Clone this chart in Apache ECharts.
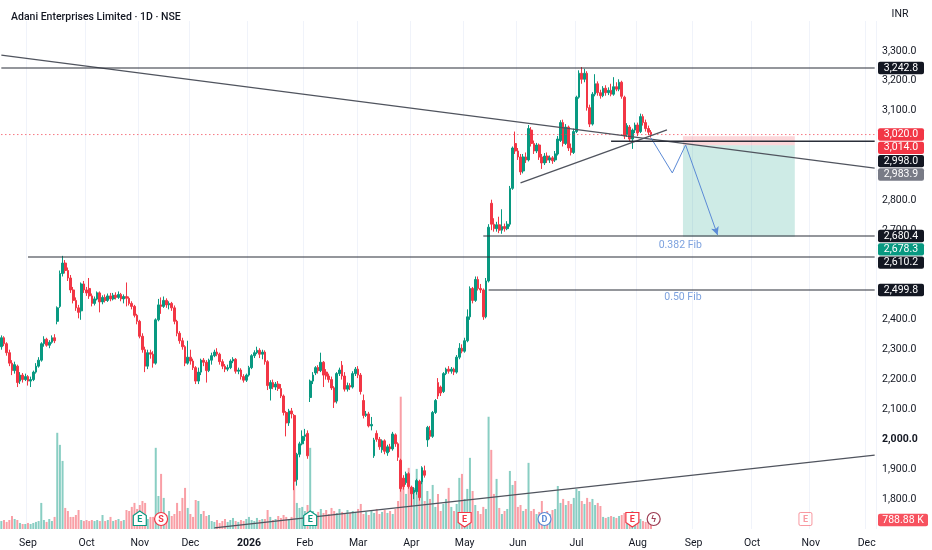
<!DOCTYPE html>
<html>
<head>
<meta charset="utf-8">
<script src="https://cdn.jsdelivr.net/npm/echarts@6/dist/echarts.min.js"></script>
<style>
html,body{margin:0;padding:0;background:#fff}
#chart{width:932px;height:550px}
</style>
</head>
<body>
<div id="chart"></div>
<script>
// trading calendar (weekdays minus a few exchange holidays), past + future space
var startDate = '2025-08-18';
var endDate = '2026-12-04';
var holidays = ['2025-10-02','2025-10-21','2025-10-22','2025-11-05','2025-12-25',
  '2026-01-26','2026-03-03','2026-03-26','2026-04-03','2026-04-14','2026-05-01'];

// daily candles [open, close, low, high]
var ohlc = [
  [2310,2340,2300,2348],[2340,2320,2312,2345],[2320,2290,2280,2325],[2290,2255,2245,2300],[2255,2230,2215,2265],
  [2230,2250,2220,2260],[2245,2190,2175,2250],[2195,2215,2185,2225],[2215,2200,2190,2222],[2200,2210,2195,2220],
  [2210,2195,2180,2215],[2195,2200,2175,2210],[2200,2225,2195,2230],[2225,2245,2220,2255],[2245,2265,2240,2275],
  [2265,2320,2260,2325],[2320,2335,2310,2345],[2335,2315,2310,2340],[2315,2325,2305,2332],[2325,2340,2320,2348],
  [2340,2330,2322,2352],[2395,2440,2385,2445],[2445,2555,2440,2565],[2555,2590,2545,2614],[2590,2565,2555,2600],
  [2565,2540,2530,2575],[2540,2500,2490,2550],[2500,2465,2455,2510],[2465,2440,2430,2475],[2440,2425,2405,2450],
  [2430,2520,2400,2525],[2520,2500,2490,2530],[2500,2490,2480,2510],[2505,2480,2470,2540],[2480,2455,2445,2488],
  [2455,2470,2448,2478],[2470,2490,2465,2495],[2490,2460,2425,2495],[2460,2475,2452,2482],[2475,2465,2458,2485],
  [2465,2480,2460,2488],[2480,2470,2462,2490],[2470,2482,2465,2490],[2482,2475,2468,2492],[2475,2485,2470,2495],
  [2485,2470,2462,2490],[2470,2478,2455,2485],[2478,2472,2445,2525],[2472,2455,2448,2478],[2455,2445,2435,2462],
  [2445,2415,2408,2450],[2415,2395,2385,2420],[2395,2345,2338,2400],[2345,2300,2290,2355],[2300,2245,2225,2310],
  [2245,2290,2235,2300],[2290,2285,2270,2300],[2285,2255,2240,2295],[2255,2400,2250,2405],[2400,2450,2395,2470],
  [2450,2445,2420,2475],[2445,2465,2440,2478],[2465,2450,2440,2472],[2450,2455,2435,2462],[2455,2440,2430,2460],
  [2440,2395,2385,2448],[2395,2355,2345,2400],[2355,2330,2320,2362],[2330,2310,2300,2340],[2310,2255,2245,2315],
  [2255,2275,2250,2330],[2275,2262,2250,2300],[2262,2240,2232,2270],[2240,2195,2185,2245],[2195,2225,2185,2240],
  [2225,2265,2215,2270],[2265,2258,2245,2272],[2258,2230,2190,2265],[2230,2265,2225,2270],[2265,2280,2250,2290],
  [2280,2292,2275,2300],[2292,2285,2278,2305],[2285,2260,2250,2290],[2260,2245,2235,2268],[2245,2235,2225,2252],
  [2235,2240,2228,2250],[2240,2262,2235,2268],[2262,2268,2255,2275],[2268,2228,2220,2272],[2228,2232,2218,2240],
  [2232,2210,2200,2238],[2210,2198,2190,2218],[2198,2215,2192,2220],[2215,2240,2210,2246],[2240,2280,2235,2285],
  [2280,2290,2272,2298],[2290,2298,2285,2310],[2298,2285,2272,2305],[2285,2292,2268,2300],[2292,2260,2250,2298],
  [2260,2180,2165,2265],[2170,2190,2130,2198],[2190,2175,2168,2200],[2175,2185,2165,2192],[2185,2170,2162,2195],
  [2170,2145,2138,2185],[2145,2090,2080,2150],[2090,2055,2010,2095],[2055,2095,2045,2102],[2095,2085,2070,2105],
  [2080,1860,1830,2085],[1865,1950,1845,1955],[1950,1985,1940,1992],[1985,2010,1980,2030],[2010,2015,1995,2035],
  [2020,1945,1935,2030],[2140,2195,2125,2200],[2195,2215,2185,2225],[2222,2240,2215,2245],[2240,2230,2220,2248],
  [2230,2258,2225,2290],[2258,2215,2175,2262],[2225,2212,2200,2235],[2212,2200,2190,2220],[2200,2172,2165,2210],
  [2172,2125,2105,2178],[2128,2220,2120,2225],[2220,2232,2212,2240],[2248,2212,2200,2262],[2212,2168,2160,2225],
  [2168,2180,2160,2190],[2180,2175,2165,2188],[2175,2220,2170,2228],[2220,2235,2212,2242],[2235,2215,2205,2245],
  [2215,2160,2150,2222],[2130,2080,2070,2150],[2080,2085,2075,2095],[2085,2045,2040,2092],[2045,2050,2030,2075],
  [1945,1998,1938,2005],[2020,2000,1992,2030],[2000,1975,1965,2008],[1965,1995,1955,2000],[1995,1960,1950,2000],
  [1955,1975,1945,1982],[1975,1968,1958,1985],[1968,2018,1962,2025],[2015,1985,1975,2020],[1985,1940,1928,1990],
  [1930,1835,1825,1935],[1870,1842,1832,1880],[1855,1885,1848,1892],[1885,1842,1835,1890],[1840,1818,1775,1845],
  [1822,1830,1800,1840],[1825,1862,1815,1868],[1860,1805,1795,1865],[1858,1905,1850,1910],[1895,1880,1872,1912],
  [1998,2040,1975,2045],[2030,2010,2000,2045],[2010,2090,2005,2095],[2090,2130,2085,2135],[2190,2145,2135,2205],
  [2175,2155,2145,2180],[2160,2220,2155,2225],[2220,2235,2215,2240],[2235,2228,2220,2245],[2228,2235,2220,2242],
  [2235,2225,2215,2240],[2225,2275,2220,2282],[2275,2305,2268,2322],[2305,2295,2288,2318],[2295,2330,2290,2340],
  [2330,2410,2325,2435],[2410,2505,2400,2512],[2505,2465,2455,2510],[2465,2535,2460,2545],[2535,2505,2498,2545],
  [2505,2500,2490,2520],[2500,2410,2400,2505],[2410,2530,2405,2540],[2530,2710,2525,2720],[2790,2720,2700,2802],
  [2720,2705,2695,2740],[2705,2718,2695,2728],[2718,2700,2690,2745],[2700,2712,2688,2770],[2712,2705,2695,2722],
  [2705,2720,2700,2730],[2720,2840,2712,2848],[2840,2975,2835,2980],[2990,2965,2955,3030],[2965,2945,2935,2975],
  [2945,2895,2885,2955],[2898,2945,2890,2955],[2945,2935,2925,2960],[2935,3040,2930,3052],[3035,2990,2980,3045],
  [2990,2965,2955,3000],[2965,2985,2958,2992],[2985,2945,2935,2990],[2945,2925,2905,2955],[2925,2948,2918,2958],
  [2948,2935,2925,2960],[2935,2942,2925,2950],[2942,2932,2922,2948],[2935,2955,2928,2965],[2955,3005,2950,3015],
  [3000,3060,2995,3068],[3060,2990,2980,3070],[2990,3045,2985,3055],[3045,2975,2965,3050],[2975,2960,2950,2990],
  [2960,3030,2955,3040],[3030,3145,3025,3150],[3145,3225,3140,3235],[3225,3205,3190,3246],[3205,3225,3195,3240],
  [3225,3110,3100,3232],[3110,3055,3045,3120],[3055,3155,3050,3162],[3155,3190,3148,3222],[3190,3160,3150,3198],
  [3160,3150,3140,3170],[3150,3175,3145,3182],[3175,3160,3150,3185],[3160,3168,3152,3178],[3168,3155,3148,3190],
  [3155,3180,3150,3212],[3180,3172,3165,3195],[3172,3195,3165,3205],[3195,3148,3140,3200],[3145,3015,3005,3150],
  [3020,3050,3012,3058],[3045,3005,2998,3052],[3005,3035,2972,3040],[3035,3052,3025,3060],[3052,3025,3015,3060],
  [3030,3080,3025,3090],[3080,3060,3050,3088],[3060,3040,3030,3070],[3040,3028,3018,3050],[3028,3020,3010,3035]
];

// daily volume, thousands of shares
var volume = [
  700,790,620,790,1140,880,790,530,440,440,530,440,530,620,700,
  2290,790,620,880,700,1060,8450,7390,5980,1850,1580,1060,1060,1230,1670,
  790,700,790,700,790,700,790,700,1230,700,790,1060,700,790,880,700,790,1670,
  1580,1940,2290,1760,2110,2460,2290,880,1060,1060,7130,2900,4840,2730,
  1230,1580,1140,1320,2290,1580,2730,3610,1850,1320,1060,2550,2460,1320,1580,1140,1230,
  700,620,790,530,700,880,620,790,970,700,620,790,700,880,1060,790,700,970,790,880,
  880,1670,1060,790,880,1140,970,1230,1060,880,1060,4220,2290,1850,1940,1580,2110,7130,
  1580,1320,1500,1760,1410,1670,1320,1850,1580,1410,1760,1500,1320,1670,1410,1580,1500,1760,2200,
  1320,1500,1230,1580,1410,1760,1320,1500,1670,1410,1580,1320,1760,2460,
  11620,4490,3080,5370,3340,3610,5280,3080,4400,2460,3340,2640,3870,1940,3080,1580,2200,2640,3610,1940,
  1580,2200,4490,4840,2640,3520,6250,3340,2110,1580,1320,1940,1760,9860,6950,3080,4400,1850,1320,1580,
  1760,5100,3870,4220,1940,2110,1580,1760,5810,1580,1760,1320,1500,2460,1410,1580,1320,1670,1760,3780,
  2290,2640,2110,2460,2200,2730,3520,3340,2460,2200,2730,2380,2640,2110,2290,2020,1060,970,1060,1140,
  1060,970,1140,1230,1410,1140,1320,1580,1060,970,880,700,620,700,788.88
];

// drawings: [bar index, price]
var downTrend = [[0, 3286], [327.6, 2908]];
var riseTrend = [[195, 2858], [250.4, 3035.5]];
var baseTrend = [[80, 1704], [328, 1947]];
var levels = [
  {price: 3242.8, from: 0},
  {price: 2610.2, from: 9.6},
  {price: 2680.4, from: 181},
  {price: 2499.8, from: 182.5},
  {price: 2998.0, from: 229}
];
var lastPrice = 3020.0;
var position = {from: 255.8, to: 297.5, stop: 3014.0, entry: 2983.9, target: 2678.3};
var pathPts = [[244.1, 3008.7], [251.6, 2891.6], [256.8, 2985.3], [268.8, 2684]];
var fibLabels = [{text: '0.382 Fib', at: [255.2, 2650]}, {text: '0.50 Fib', at: [255.5, 2476]}];
var tags = [
  {v: 3242.8, bg: '#131722'}, {v: 3020.0, bg: '#f23645'}, {v: 3014.0, bg: '#f23645'},
  {v: 2998.0, bg: '#131722'}, {v: 2983.9, bg: '#787b86'}, {v: 2680.4, bg: '#131722'},
  {v: 2678.3, bg: '#089981'}, {v: 2610.2, bg: '#131722'}, {v: 2499.8, bg: '#131722'}
];
var events = [
  {i: 52, t: 'E', kind: 'eUp'}, {i: 60, t: 'S', kind: 'circle', c: '#f23645'},
  {i: 116, t: 'E', kind: 'eUp'}, {i: 174, t: 'E', kind: 'eDown'},
  {i: 204, t: 'D', kind: 'circle', c: '#5b8ad6'}, {i: 237, t: 'E', kind: 'eDown'},
  {i: 245, t: 'ϟ', kind: 'circle', c: '#9c3b52'}, {i: 302, t: 'E', kind: 'eFuture'}
];

var UP = '#089981', DOWN = '#f23645', FONT = 'Roboto, Arial, sans-serif';
var MONTHS = ['Jan','Feb','Mar','Apr','May','Jun','Jul','Aug','Sep','Oct','Nov','Dec'];

var dates = [];
(function () {
  var d = new Date(startDate + 'T00:00:00Z'), end = new Date(endDate + 'T00:00:00Z');
  while (d <= end) {
    var s = d.toISOString().slice(0, 10), wd = d.getUTCDay();
    if (wd !== 0 && wd !== 6 && holidays.indexOf(s) < 0) dates.push(s);
    d.setUTCDate(d.getUTCDate() + 1);
  }
})();

function monthStart(idx) {
  return idx > 0 && dates[idx].slice(0, 7) !== dates[idx - 1].slice(0, 7);
}
function fmtPrice(v) {
  var s = v.toFixed(1), p = s.split('.'), n = p[0];
  if (n.length > 3) n = n.slice(0, n.length - 3) + ',' + n.slice(n.length - 3);
  return n + '.' + p[1];
}

var volData = volume.map(function (v, i) {
  var up = ohlc[i][1] >= ohlc[i][0];
  return {value: v, itemStyle: {color: up ? 'rgba(8,153,129,0.48)' : 'rgba(242,54,69,0.48)'}};
});

function drawLine(pts, extra) {
  return Object.assign({
    type: 'line', xAxisIndex: 0, yAxisIndex: 0, data: pts, symbol: 'none', silent: true,
    animation: false, z: 5, lineStyle: {color: '#50545e', width: 1.3}
  }, extra || {});
}

var series = [
  {
    type: 'bar', xAxisIndex: 1, yAxisIndex: 1, data: volData, barWidth: 2,
    silent: true, animation: false, z: 1
  },
  {
    type: 'candlestick', xAxisIndex: 0, yAxisIndex: 0, data: ohlc, barWidth: 2.2,
    animation: false, z: 3, silent: true,
    itemStyle: {color: UP, color0: DOWN, borderColor: UP, borderColor0: DOWN, borderWidth: 1},
    markArea: {
      silent: true,
      data: [
        [{coord: [position.from, position.stop], itemStyle: {color: 'rgba(242,54,69,0.2)'}},
         {coord: [position.to, position.entry]}],
        [{coord: [position.from, position.entry], itemStyle: {color: 'rgba(8,153,129,0.2)'}},
         {coord: [position.to, position.target]}]
      ]
    }
  },
  drawLine(downTrend),
  drawLine(riseTrend),
  drawLine(baseTrend),
  drawLine([[0, lastPrice], [328, lastPrice]], {lineStyle: {color: '#f23645', width: 1, type: [1, 3]}, z: 4}),
  drawLine(pathPts.slice(0, 3), {
    lineStyle: {color: '#5b8ad6', width: 1},
    markLine: {
      silent: true, symbol: ['none', 'arrow'], symbolSize: [6, 8],
      lineStyle: {color: '#5b8ad6', width: 1, type: 'solid'}, label: {show: false},
      data: [[{coord: pathPts[2]}, {coord: pathPts[3]}]]
    }
  }),
  {
    type: 'scatter', xAxisIndex: 0, yAxisIndex: 0, symbolSize: 0, silent: true, animation: false,
    data: fibLabels.map(function (f) { return {value: f.at, label: {formatter: f.text}}; }),
    label: {show: true, color: '#5b8ad6', fontSize: 10.5, fontFamily: FONT, position: 'inside'}
  }
];
levels.forEach(function (l) {
  series.push(drawLine([[l.from, l.price], [328, l.price]], {
    lineStyle: {color: '#2a2e39', width: l.price === 2998 ? 1.5 : 1.1}
  }));
});

var chart = echarts.init(document.getElementById('chart'));
chart.setOption({
  backgroundColor: '#fff',
  animation: false,
  title: {
    text: 'Adani Enterprises Limited · 1D · NSE', left: 6, top: 7,
    textStyle: {fontSize: 10.5, fontWeight: 500, color: '#131722', fontFamily: FONT}
  },
  grid: [
    {left: 0, right: 56, top: 21, bottom: 21},
    {left: 0, right: 56, top: 381, bottom: 21}
  ],
  xAxis: [
    {
      type: 'category', gridIndex: 0, data: dates, boundaryGap: true,
      axisLine: {show: false}, axisTick: {show: false},
      axisLabel: {
        interval: function (idx) { return monthStart(idx); },
        margin: 9, color: '#131722', fontSize: 10.5, fontFamily: FONT,
        formatter: function (val) {
          var m = +val.slice(5, 7);
          return m === 1 ? '{y|' + val.slice(0, 4) + '}' : MONTHS[m - 1];
        },
        rich: {y: {fontWeight: 'bold', fontSize: 10.5, fontFamily: FONT, color: '#131722'}}
      },
      splitLine: {show: true, interval: function (idx) { return monthStart(idx); },
        lineStyle: {color: '#f0f3fa', width: 1}}
    },
    {type: 'category', gridIndex: 1, data: dates, show: false}
  ],
  yAxis: [
    {
      type: 'value', gridIndex: 0, position: 'right', min: 1700, max: 3400, interval: 100,
      axisLine: {show: false}, axisTick: {show: false}, splitLine: {show: false},
      axisLabel: {
        margin: 6, color: '#131722', fontSize: 10.5, fontFamily: FONT,
        formatter: function (v) {
          if ([1700, 2500, 2600, 2900, 3000, 3400].indexOf(v) >= 0) return '';
          return v === 2000 ? '{b|' + fmtPrice(v) + '}' : fmtPrice(v);
        },
        rich: {b: {fontWeight: 'bold', fontSize: 10.5, fontFamily: FONT, color: '#131722'}}
      }
    },
    {type: 'value', gridIndex: 1, min: 0, max: 13000, show: false}
  ],
  series: series
});

// right-hand price tags, stacked so they do not overlap
var g = [];
var prevY = -100;
tags.slice().sort(function (a, b) { return b.v - a.v; }).forEach(function (t) {
  var y = chart.convertToPixel({yAxisIndex: 0}, t.v);
  if (y < prevY + 13.3) y = prevY + 13.3;
  prevY = y;
  g.push({
    type: 'rect', shape: {x: 878, y: y - 6.2, width: 46, height: 12.4, r: 2},
    style: {fill: t.bg}, z: 100
  });
  g.push({
    type: 'text', x: 901, y: y, z: 101,
    style: {text: fmtPrice(t.v), fill: '#fff', font: '10.5px ' + FONT, align: 'center', verticalAlign: 'middle'}
  });
});
var lastVol = volume[volume.length - 1];
var vy = chart.convertToPixel({yAxisIndex: 1}, lastVol);
g.push({type: 'rect', shape: {x: 878, y: vy - 6.2, width: 50, height: 12.4, r: 2}, style: {fill: '#f7525f'}, z: 100});
g.push({type: 'text', x: 903, y: vy, z: 101,
  style: {text: lastVol.toFixed(2) + ' K', fill: '#fff', font: '10.5px ' + FONT, align: 'center', verticalAlign: 'middle'}});
g.push({type: 'text', x: 900, y: 14, z: 101,
  style: {text: 'INR', fill: '#131722', font: '10.5px ' + FONT, align: 'center', verticalAlign: 'middle'}});

// event markers along the bottom of the price pane
events.forEach(function (e) {
  var cx = chart.convertToPixel({xAxisIndex: 0}, e.i), cy = 519;
  var col = e.kind === 'eUp' ? UP : (e.kind === 'circle' ? e.c : '#f23645');
  var op = e.kind === 'eFuture' ? 0.5 : 1;
  var shape;
  if (e.kind === 'circle') {
    shape = {type: 'circle', shape: {cx: cx, cy: cy, r: 6.5}, style: {fill: '#fff', stroke: col, lineWidth: 1.2, opacity: op}, z: 90};
  } else if (e.kind === 'eUp') {
    shape = {type: 'polygon', shape: {points: [[cx, cy - 8], [cx + 6.5, cy - 3.5], [cx + 6.5, cy + 6.5], [cx - 6.5, cy + 6.5], [cx - 6.5, cy - 3.5]]},
      style: {fill: '#fff', stroke: col, lineWidth: 1.2}, z: 90};
  } else if (e.kind === 'eDown') {
    shape = {type: 'polygon', shape: {points: [[cx - 6.5, cy - 6.5], [cx + 6.5, cy - 6.5], [cx + 6.5, cy + 3.5], [cx, cy + 8], [cx - 6.5, cy + 3.5]]},
      style: {fill: '#fff', stroke: col, lineWidth: 1.2}, z: 90};
  } else {
    shape = {type: 'rect', shape: {x: cx - 6.5, y: cy - 6.5, width: 13, height: 13, r: 1.5},
      style: {fill: '#fff', stroke: col, lineWidth: 1, opacity: op}, z: 90};
  }
  g.push(shape);
  g.push({type: 'text', x: cx, y: cy + 0.5, z: 91,
    style: {text: e.t, fill: col, opacity: op, font: 'bold 9px ' + FONT, align: 'center', verticalAlign: 'middle'}});
});
chart.setOption({graphic: g});
</script>
</body>
</html>
